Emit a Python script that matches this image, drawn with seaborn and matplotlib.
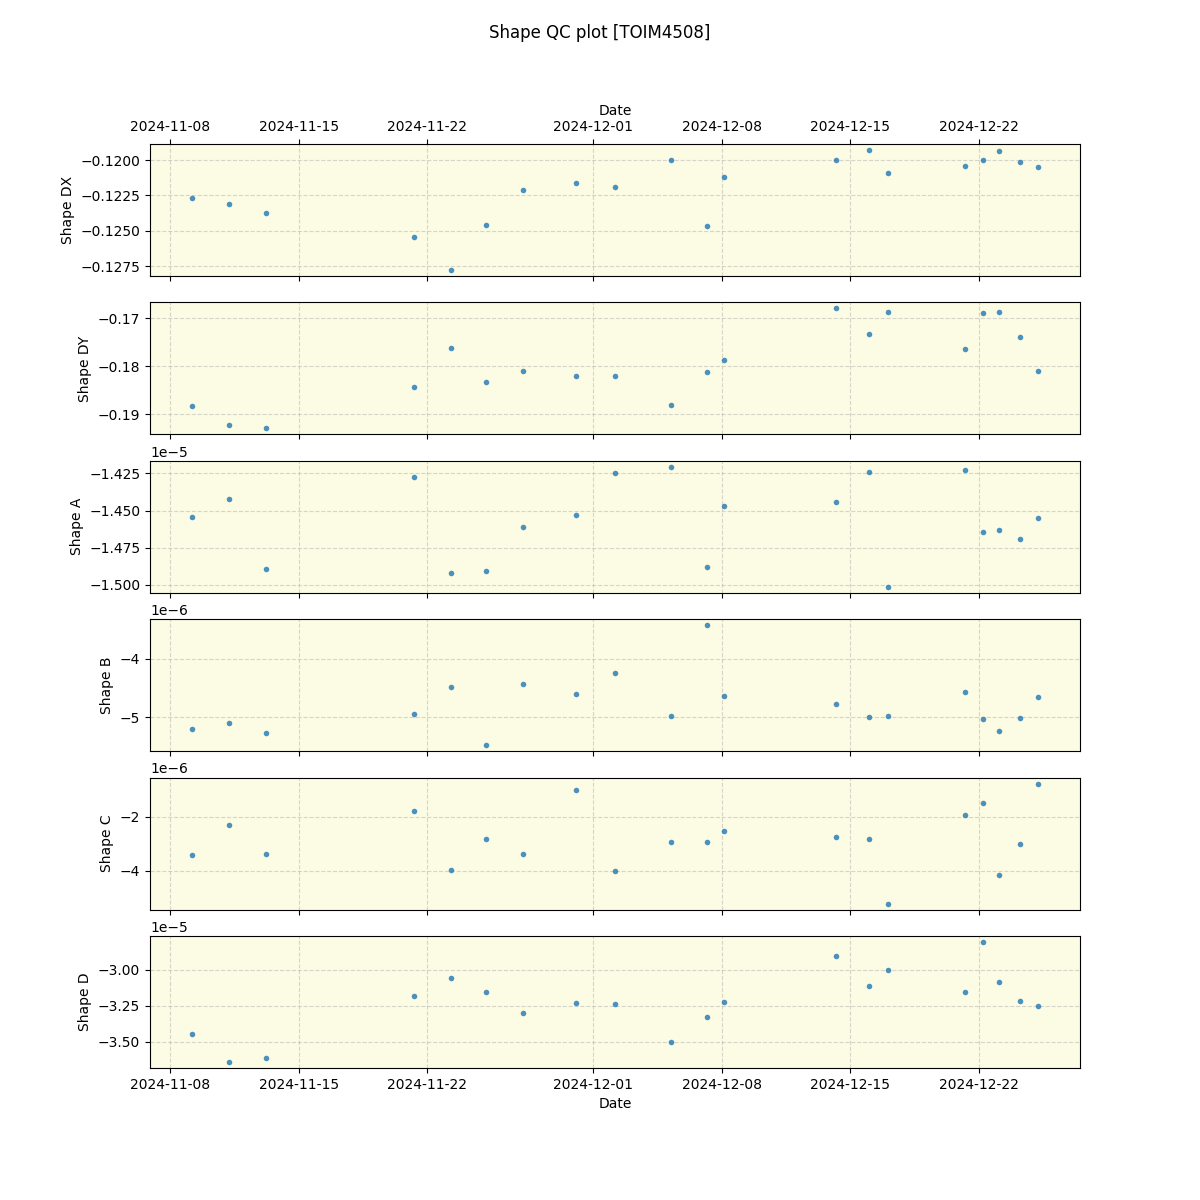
import matplotlib
matplotlib.use("Agg")
import matplotlib.pyplot as plt
import seaborn as sns
import pandas as pd
import numpy as np

dates = [
    "2024-11-09 05:00", "2024-11-11 04:30", "2024-11-13 05:00", "2024-11-21 06:30",
    "2024-11-23 06:45", "2024-11-25 04:20", "2024-11-27 04:50", "2024-11-30 02:10",
    "2024-12-02 05:20", "2024-12-05 06:15", "2024-12-07 05:20", "2024-12-08 03:10",
    "2024-12-14 05:30", "2024-12-16 01:00", "2024-12-17 02:00", "2024-12-21 06:15",
    "2024-12-22 05:45", "2024-12-23 02:40", "2024-12-24 05:15", "2024-12-25 04:50",
]

shape_dx = [-0.12269, -0.12311, -0.12375, -0.12545, -0.12778, -0.12460, -0.12212, -0.12163,
            -0.12191, -0.12000, -0.12467, -0.12120, -0.12000, -0.11929, -0.12092, -0.12042,
            -0.12000, -0.11936, -0.12014, -0.12050]

shape_dy = [-0.18840, -0.19237, -0.19300, -0.18443, -0.17627, -0.18338, -0.18108, -0.18213,
            -0.18213, -0.18819, -0.18129, -0.17878, -0.16791, -0.17334, -0.16875, -0.17648,
            -0.16895, -0.16875, -0.17397, -0.18108]

shape_a = [-1.4542e-5, -1.4421e-5, -1.4892e-5, -1.4272e-5, -1.4919e-5, -1.4906e-5, -1.4609e-5,
           -1.4529e-5, -1.4246e-5, -1.4205e-5, -1.4879e-5, -1.4468e-5, -1.4441e-5, -1.4239e-5,
           -1.5014e-5, -1.4225e-5, -1.4643e-5, -1.4629e-5, -1.4690e-5, -1.4548e-5]

shape_b = [-5.206e-6, -5.103e-6, -5.274e-6, -4.949e-6, -4.486e-6, -5.480e-6, -4.434e-6,
           -4.606e-6, -4.246e-6, -4.983e-6, -3.423e-6, -4.640e-6, -4.777e-6, -5.000e-6,
           -4.983e-6, -4.571e-6, -5.034e-6, -5.240e-6, -5.017e-6, -4.657e-6]

shape_c = [-3.407e-6, -2.296e-6, -3.370e-6, -1.778e-6, -3.963e-6, -2.815e-6, -3.370e-6,
           -1.000e-6, -4.000e-6, -2.926e-6, -2.926e-6, -2.519e-6, -2.741e-6, -2.815e-6,
           -5.222e-6, -1.926e-6, -1.481e-6, -4.148e-6, -3.000e-6, -0.778e-6]

shape_d = [-3.4444e-5, -3.6389e-5, -3.6111e-5, -3.1806e-5, -3.0556e-5, -3.1528e-5, -3.2986e-5,
           -3.2292e-5, -3.2361e-5, -3.5000e-5, -3.3264e-5, -3.2222e-5, -2.9028e-5, -3.1111e-5,
           -3.0000e-5, -3.1528e-5, -2.8056e-5, -3.0833e-5, -3.2153e-5, -3.2500e-5]

labels = ["Shape DX", "Shape DY", "Shape A", "Shape B", "Shape C", "Shape D"]
series = [shape_dx, shape_dy, shape_a, shape_b, shape_c, shape_d]

df = pd.DataFrame({"Date": pd.to_datetime(dates)})
for lab, vals in zip(labels, series):
    df[lab] = vals

fig, axes = plt.subplots(6, 1, sharex=True, figsize=(12, 12), dpi=100)

for i, (ax, lab) in enumerate(zip(axes, labels)):
    sns.scatterplot(data=df, x="Date", y=lab, ax=ax, s=16, color="#1f77b4",
                    alpha=0.8, linewidth=0, zorder=3)
    ax.set_facecolor("#fcfbe3")
    ax.grid(True, linestyle="--", color="#b0b0b0", alpha=0.5, zorder=0)
    ax.set_axisbelow(True)
    ax.set_ylabel(lab)
    ax.set_xlabel("")

axes[0].tick_params(axis="x", which="both", top=True, labeltop=True)
axes[0].xaxis.set_label_position("top")
axes[0].set_xlabel("Date")
axes[0].xaxis.label.set_visible(True)
axes[-1].set_xlabel("Date")

fig.suptitle("Shape QC plot [TOIM4508]")
fig.savefig("out.png", dpi=100)
